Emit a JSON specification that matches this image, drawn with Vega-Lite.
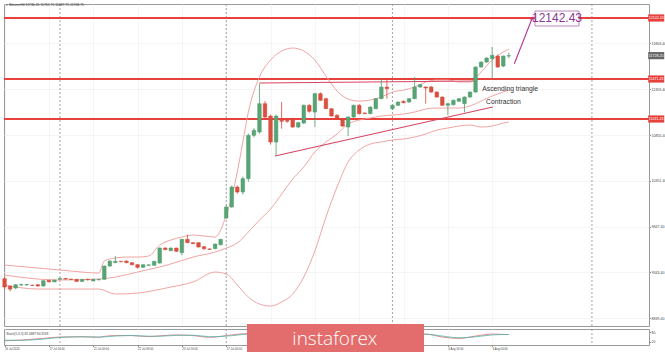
{
"$schema":"https://vega.github.io/schema/vega-lite/v6.json",
"padding":{"left":2,"top":2,"right":0,"bottom":0},
"background":"#ffffff",
"spacing":3,
"bounds":"flush",
"config":{"view":{"stroke":"#9a9a9a","strokeWidth":1},"font":"Liberation Sans","axis":{"labelFont":"Liberation Sans"}},
"datasets":{
"sep":[{"i":12},{"i":42},{"i":72},{"i":108}],
"lv":[{"p":12142.43,"t":"12142.43","k":"r"},{"p":11471.43,"t":"11471.43","k":"r"},{"p":11031.43,"t":"11031.43","k":"r"},{"p":11728.25,"t":"11728.25","k":"g"}],
"c":[
{"i":2,"o":9275,"h":9290,"l":9160,"c":9183},{"i":3,"o":9194,"h":9200,"l":9135,"c":9160},{"i":4,"o":9172,"h":9215,"l":9160,"c":9209},{"i":5,"o":9205,"h":9222,"l":9195,"c":9209},{"i":6,"o":9206,"h":9218,"l":9198,"c":9210},{"i":7,"o":9203,"h":9210,"l":9195,"c":9201},{"i":8,"o":9209,"h":9215,"l":9188,"c":9194},{"i":9,"o":9194,"h":9258,"l":9190,"c":9253},{"i":10,"o":9257,"h":9262,"l":9235,"c":9240},{"i":11,"o":9240,"h":9265,"l":9236,"c":9260},
{"i":12,"o":9268,"h":9285,"l":9262,"c":9278},{"i":13,"o":9278,"h":9282,"l":9265,"c":9270},{"i":14,"o":9270,"h":9276,"l":9260,"c":9266},{"i":15,"o":9268,"h":9272,"l":9240,"c":9245},{"i":16,"o":9245,"h":9272,"l":9240,"c":9268},{"i":17,"o":9268,"h":9275,"l":9255,"c":9262},{"i":18,"o":9250,"h":9272,"l":9245,"c":9268},{"i":19,"o":9262,"h":9275,"l":9258,"c":9265},{"i":20,"o":9268,"h":9420,"l":9262,"c":9414},{"i":21,"o":9414,"h":9475,"l":9405,"c":9469},
{"i":22,"o":9452,"h":9524,"l":9445,"c":9466},{"i":23,"o":9466,"h":9472,"l":9455,"c":9462},{"i":24,"o":9469,"h":9475,"l":9445,"c":9451},{"i":25,"o":9451,"h":9455,"l":9420,"c":9429},{"i":26,"o":9429,"h":9435,"l":9385,"c":9400},{"i":27,"o":9400,"h":9432,"l":9395,"c":9429},{"i":28,"o":9422,"h":9432,"l":9418,"c":9427},{"i":29,"o":9422,"h":9470,"l":9418,"c":9466},{"i":30,"o":9447,"h":9620,"l":9440,"c":9612},{"i":31,"o":9612,"h":9620,"l":9588,"c":9595},
{"i":32,"o":9583,"h":9618,"l":9578,"c":9612},{"i":33,"o":9612,"h":9616,"l":9570,"c":9576},{"i":34,"o":9561,"h":9712,"l":9532,"c":9708},{"i":35,"o":9708,"h":9759,"l":9665,"c":9671},{"i":36,"o":9671,"h":9675,"l":9655,"c":9660},{"i":37,"o":9671,"h":9676,"l":9618,"c":9623},{"i":38,"o":9627,"h":9632,"l":9590,"c":9605},{"i":39,"o":9602,"h":9608,"l":9592,"c":9598},{"i":40,"o":9605,"h":9660,"l":9598,"c":9656},{"i":41,"o":9649,"h":9712,"l":9640,"c":9708},
{"i":42,"o":9942,"h":10080,"l":9935,"c":10063},{"i":43,"o":10063,"h":10300,"l":10055,"c":10283},{"i":44,"o":10283,"h":10300,"l":10210,"c":10228},{"i":45,"o":10228,"h":10400,"l":10200,"c":10375},{"i":46,"o":10375,"h":10870,"l":10340,"c":10852},{"i":47,"o":10852,"h":10930,"l":10830,"c":10907},{"i":48,"o":10888,"h":11420,"l":10870,"c":11200},{"i":49,"o":11200,"h":11230,"l":11040,"c":11053},{"i":50,"o":11064,"h":11080,"l":10750,"c":10778},{"i":51,"o":10778,"h":11080,"l":10624,"c":11064},
{"i":52,"o":11017,"h":11218,"l":10925,"c":11006},{"i":53,"o":11017,"h":11040,"l":10990,"c":11006},{"i":54,"o":11028,"h":11045,"l":10935,"c":10943},{"i":55,"o":10943,"h":11000,"l":10930,"c":10991},{"i":56,"o":10987,"h":11190,"l":10975,"c":11182},{"i":57,"o":11182,"h":11195,"l":11100,"c":11116},{"i":58,"o":11108,"h":11320,"l":10943,"c":11310},{"i":59,"o":11310,"h":11325,"l":11230,"c":11237},{"i":60,"o":11255,"h":11265,"l":11140,"c":11145},{"i":61,"o":11145,"h":11150,"l":11060,"c":11064},
{"i":62,"o":11072,"h":11085,"l":11035,"c":11042},{"i":63,"o":11028,"h":11035,"l":10945,"c":10954},{"i":64,"o":10943,"h":11060,"l":10844,"c":11053},{"i":65,"o":11053,"h":11190,"l":11045,"c":11182},{"i":66,"o":11182,"h":11195,"l":11080,"c":11090},{"i":67,"o":11097,"h":11105,"l":11085,"c":11090},{"i":68,"o":11090,"h":11170,"l":11085,"c":11163},{"i":69,"o":11145,"h":11260,"l":11140,"c":11255},{"i":70,"o":11255,"h":11475,"l":11250,"c":11383},{"i":71,"o":11383,"h":11475,"l":11255,"c":11365},
{"i":72,"o":11145,"h":11190,"l":11130,"c":11182},{"i":73,"o":11182,"h":11225,"l":11175,"c":11218},{"i":74,"o":11226,"h":11235,"l":11205,"c":11211},{"i":75,"o":11218,"h":11260,"l":11210,"c":11255},{"i":76,"o":11255,"h":11493,"l":11250,"c":11383},{"i":77,"o":11383,"h":11415,"l":11375,"c":11409},{"i":78,"o":11383,"h":11390,"l":11200,"c":11372},{"i":79,"o":11383,"h":11395,"l":11320,"c":11328},{"i":80,"o":11328,"h":11335,"l":11265,"c":11273},{"i":81,"o":11273,"h":11280,"l":11175,"c":11182},
{"i":82,"o":11182,"h":11210,"l":11072,"c":11200},{"i":83,"o":11189,"h":11245,"l":11180,"c":11237},{"i":84,"o":11226,"h":11262,"l":11220,"c":11255},{"i":85,"o":11200,"h":11280,"l":11108,"c":11273},{"i":86,"o":11273,"h":11335,"l":11265,"c":11328},{"i":87,"o":11328,"h":11610,"l":11320,"c":11603},{"i":88,"o":11603,"h":11665,"l":11595,"c":11658},{"i":89,"o":11658,"h":11710,"l":11650,"c":11702},{"i":90,"o":11695,"h":11823,"l":11475,"c":11732},{"i":91,"o":11724,"h":11740,"l":11595,"c":11603},
{"i":92,"o":11614,"h":11730,"l":11600,"c":11724},{"i":93,"o":11724,"h":11761,"l":11700,"c":11728}
],
"bb":[
{"b":"u","i":2,"p":9425},{"b":"u","i":6,"p":9403},{"b":"u","i":10,"p":9381},{"b":"u","i":14,"p":9359},{"b":"u","i":19,"p":9337},{"b":"u","i":20,"p":9469},{"b":"u","i":22,"p":9502},{"b":"u","i":24,"p":9513},{"b":"u","i":26,"p":9513},{"b":"u","i":28,"p":9524},{"b":"u","i":30,"p":9645},{"b":"u","i":32,"p":9700},{"b":"u","i":34,"p":9733},{"b":"u","i":36,"p":9755},{"b":"u","i":38,"p":9744},{"b":"u","i":40,"p":9733},{"b":"u","i":41,"p":9810},{"b":"u","i":42,"p":9975},{"b":"u","i":43,"p":10173},{"b":"u","i":44,"p":10448},{"b":"u","i":45,"p":10778},{"b":"u","i":46,"p":11108},{"b":"u","i":48,"p":11493},{"b":"u","i":50,"p":11680},{"b":"u","i":52,"p":11779},{"b":"u","i":54,"p":11812},{"b":"u","i":56,"p":11779},{"b":"u","i":58,"p":11680},{"b":"u","i":60,"p":11504},{"b":"u","i":62,"p":11339},{"b":"u","i":64,"p":11251},{"b":"u","i":66,"p":11229},{"b":"u","i":68,"p":11240},{"b":"u","i":70,"p":11273},{"b":"u","i":72,"p":11328},{"b":"u","i":74,"p":11350},{"b":"u","i":76,"p":11383},{"b":"u","i":78,"p":11438},{"b":"u","i":80,"p":11460},{"b":"u","i":82,"p":11460},{"b":"u","i":84,"p":11438},{"b":"u","i":86,"p":11438},{"b":"u","i":88,"p":11548},{"b":"u","i":90,"p":11680},{"b":"u","i":92,"p":11768},{"b":"u","i":93,"p":11801},
{"b":"m","i":2,"p":9315},{"b":"m","i":8,"p":9271},{"b":"m","i":12,"p":9260},{"b":"m","i":19,"p":9271},{"b":"m","i":22,"p":9293},{"b":"m","i":26,"p":9348},{"b":"m","i":32,"p":9436},{"b":"m","i":36,"p":9513},{"b":"m","i":40,"p":9568},{"b":"m","i":42,"p":9612},{"b":"m","i":44,"p":9667},{"b":"m","i":46,"p":9788},{"b":"m","i":48,"p":9920},{"b":"m","i":50,"p":10041},{"b":"m","i":52,"p":10206},{"b":"m","i":54,"p":10371},{"b":"m","i":56,"p":10503},{"b":"m","i":58,"p":10668},{"b":"m","i":60,"p":10778},{"b":"m","i":62,"p":10866},{"b":"m","i":64,"p":10976},{"b":"m","i":66,"p":11020},{"b":"m","i":68,"p":11042},{"b":"m","i":70,"p":11064},{"b":"m","i":72,"p":11075},{"b":"m","i":74,"p":11086},{"b":"m","i":76,"p":11108},{"b":"m","i":78,"p":11141},{"b":"m","i":80,"p":11152},{"b":"m","i":82,"p":11152},{"b":"m","i":84,"p":11152},{"b":"m","i":86,"p":11174},{"b":"m","i":88,"p":11229},{"b":"m","i":90,"p":11284},{"b":"m","i":92,"p":11328},{"b":"m","i":93,"p":11350},
{"b":"l","i":2,"p":9205},{"b":"l","i":8,"p":9161},{"b":"l","i":14,"p":9161},{"b":"l","i":19,"p":9161},{"b":"l","i":22,"p":9106},{"b":"l","i":26,"p":9117},{"b":"l","i":32,"p":9183},{"b":"l","i":36,"p":9238},{"b":"l","i":40,"p":9348},{"b":"l","i":42,"p":9326},{"b":"l","i":44,"p":9205},{"b":"l","i":46,"p":9073},{"b":"l","i":48,"p":8996},{"b":"l","i":50,"p":8974},{"b":"l","i":52,"p":9018},{"b":"l","i":54,"p":9106},{"b":"l","i":56,"p":9293},{"b":"l","i":58,"p":9579},{"b":"l","i":60,"p":9953},{"b":"l","i":62,"p":10283},{"b":"l","i":64,"p":10558},{"b":"l","i":66,"p":10690},{"b":"l","i":68,"p":10756},{"b":"l","i":70,"p":10778},{"b":"l","i":72,"p":10800},{"b":"l","i":74,"p":10811},{"b":"l","i":76,"p":10833},{"b":"l","i":78,"p":10866},{"b":"l","i":80,"p":10910},{"b":"l","i":82,"p":10932},{"b":"l","i":84,"p":10954},{"b":"l","i":86,"p":10965},{"b":"l","i":88,"p":10943},{"b":"l","i":90,"p":10954},{"b":"l","i":92,"p":10987},{"b":"l","i":93,"p":10998}
],
"tri":[{"s":"top","i":48,"p":11427},{"s":"top","i":87,"p":11449},{"s":"diag","i":50.8,"p":10624},{"s":"diag","i":90.1,"p":11163}],
"arrow":[{"i":94.0,"p":11640},{"i":97.3,"p":12153}],
"head":[{"i":97.3,"p":12140}],
"tgt":[{"i":101.7,"p":12137,"t":"12142.43"}],
"notes":[{"i":88.2,"p":11361,"t":"Ascending triangle"},{"i":88.9,"p":11218,"t":"Contraction"}],
"hdr":[{"i":2.3,"p":12280,"t":"▾ Bitcoin,H4  11736.25 11763.75 11687.75 11708.75"}],
"osc":[
{"b":"k","i":2,"v":26},{"b":"k","i":5,"v":31},{"b":"k","i":9,"v":41},{"b":"k","i":12,"v":50},{"b":"k","i":16,"v":52},{"b":"k","i":19,"v":48},{"b":"k","i":20,"v":54},{"b":"k","i":22,"v":59},{"b":"k","i":25,"v":59},{"b":"k","i":28,"v":52},{"b":"k","i":30,"v":57},{"b":"k","i":33,"v":63},{"b":"k","i":36,"v":59},{"b":"k","i":39,"v":48},{"b":"k","i":43,"v":63},{"b":"k","i":45,"v":70},{"b":"k","i":48,"v":72},{"b":"k","i":51,"v":60},{"b":"k","i":54,"v":55},{"b":"k","i":57,"v":62},{"b":"k","i":60,"v":58},{"b":"k","i":63,"v":50},{"b":"k","i":66,"v":55},{"b":"k","i":69,"v":64},{"b":"k","i":72,"v":62},{"b":"k","i":75,"v":66},{"b":"k","i":78,"v":68},{"b":"k","i":81,"v":50},{"b":"k","i":84,"v":41},{"b":"k","i":87,"v":56},{"b":"k","i":90,"v":68},{"b":"k","i":93,"v":65},
{"b":"d","i":2,"v":30},{"b":"d","i":5,"v":29},{"b":"d","i":9,"v":37},{"b":"d","i":12,"v":47},{"b":"d","i":16,"v":51},{"b":"d","i":19,"v":50},{"b":"d","i":20,"v":51},{"b":"d","i":22,"v":56},{"b":"d","i":25,"v":59},{"b":"d","i":28,"v":55},{"b":"d","i":30,"v":55},{"b":"d","i":33,"v":60},{"b":"d","i":36,"v":61},{"b":"d","i":39,"v":52},{"b":"d","i":43,"v":58},{"b":"d","i":45,"v":66},{"b":"d","i":48,"v":71},{"b":"d","i":51,"v":64},{"b":"d","i":54,"v":57},{"b":"d","i":57,"v":59},{"b":"d","i":60,"v":59},{"b":"d","i":63,"v":53},{"b":"d","i":66,"v":53},{"b":"d","i":69,"v":60},{"b":"d","i":72,"v":63},{"b":"d","i":75,"v":64},{"b":"d","i":78,"v":67},{"b":"d","i":81,"v":56},{"b":"d","i":84,"v":45},{"b":"d","i":87,"v":51},{"b":"d","i":90,"v":63},{"b":"d","i":93,"v":66}
],
"olab":[{"i":2.3,"v":72,"t":"Stoch(5,3,3) 82.0887 84.3193"}],
"wm":[{"t":"instaforex"}]
},
"vconcat":[
{"width":645,"height":322,
"layer":[
{"data":{"name":"sep"},"mark":{"type":"rule","color":"#8c8c8c","strokeWidth":0.8,"strokeDash":[2,2]},
 "encoding":{"x":{"field":"i","type":"quantitative","scale":{"domain":[1.9,118.3],"nice":false,"zero":false,"padding":0},"axis":{"values":[2,6,10,14,18,22,26,30,34,38,42,46,50,54,58,62,66,70,74,78,82,86,90],"labels":false,"ticks":false,"domain":false,"grid":true,"gridColor":"#ebebeb","gridDash":[1,1],"title":null}}}},
{"data":{"name":"lv"},"transform":[{"filter":"datum.k == 'r'"}],"mark":{"type":"rule","color":"#e8403a","strokeWidth":1.8},
 "encoding":{"y":{"field":"p","type":"quantitative","scale":{"domain":[8754.43,12296.43],"nice":false,"zero":false,"padding":0},"axis":{"orient":"right","values":[12241.4,12115.4,11989.4,11863.4,11737.4,11611.4,11485.4,11359.4,11233.4,11107.4,10981.4,10855.4,10729.4,10603.4,10477.4,10351.4,10225.4,10099.4,9973.4,9847.4,9721.4,9595.4,9469.4,9343.4,9217.4,9091.4,8965.4,8839.4],"format":".2f","labelFontSize":3.6,"labelColor":"#444","labelPadding":0.5,"tickSize":1.5,"tickColor":"#888","domain":false,"grid":true,"gridColor":"#ebebeb","gridDash":[1,1],"title":null,"labelOverlap":false,"labelBound":false,"labelFlush":false}}}},
{"data":{"name":"bb"},"mark":{"type":"line","color":"#ee9a9a","strokeWidth":0.9,"interpolate":"monotone"},
 "encoding":{"x":{"field":"i","type":"quantitative"},"y":{"field":"p","type":"quantitative"},"detail":{"field":"b"}}},
{"data":{"name":"tri"},"mark":{"type":"line","color":"#d64560","strokeWidth":1.1},
 "encoding":{"x":{"field":"i","type":"quantitative"},"y":{"field":"p","type":"quantitative"},"detail":{"field":"s"}}},
{"data":{"name":"c"},"mark":{"type":"rule","strokeWidth":0.8},
 "encoding":{"x":{"field":"i","type":"quantitative"},"y":{"field":"l","type":"quantitative"},"y2":{"field":"h"},
  "color":{"condition":{"test":"datum.c >= datum.o","value":"#4f9a6c"},"value":"#d4493b"}}},
{"data":{"name":"c"},"mark":{"type":"bar","width":3.6,"strokeWidth":0.5},
 "encoding":{"x":{"field":"i","type":"quantitative"},"y":{"field":"o","type":"quantitative"},"y2":{"field":"c"},
  "fill":{"condition":{"test":"datum.c >= datum.o","value":"#58a474"},"value":"#d9503f"},
  "stroke":{"condition":{"test":"datum.c >= datum.o","value":"#4f9a6c"},"value":"#d4493b"}}},
{"data":{"name":"arrow"},"mark":{"type":"line","color":"#b0368f","strokeWidth":1.1},
 "encoding":{"x":{"field":"i","type":"quantitative"},"y":{"field":"p","type":"quantitative"}}},
{"data":{"name":"head"},"mark":{"type":"point","shape":"triangle-up","filled":true,"color":"#b0368f","size":22,"angle":21},
 "encoding":{"x":{"field":"i","type":"quantitative"},"y":{"field":"p","type":"quantitative"}}},
{"data":{"name":"tgt"},"mark":{"type":"point","shape":"M-1,-0.34H1V0.34H-1Z","size":1936,"filled":true,"fill":"#ffffff","stroke":"#a86aa8","strokeWidth":0.8,"opacity":1},
 "encoding":{"x":{"field":"i","type":"quantitative"},"y":{"field":"p","type":"quantitative"}}},
{"data":{"name":"tgt"},"mark":{"type":"text","fontSize":12,"color":"#8a3590","align":"center","baseline":"middle","font":"Liberation Sans"},
 "encoding":{"x":{"field":"i","type":"quantitative"},"y":{"field":"p","type":"quantitative"},"text":{"field":"t"}}},
{"data":{"name":"notes"},"mark":{"type":"text","fontSize":6.8,"color":"#333333","align":"left","baseline":"middle"},
 "encoding":{"x":{"field":"i","type":"quantitative"},"y":{"field":"p","type":"quantitative"},"text":{"field":"t"}}},
{"data":{"name":"hdr"},"mark":{"type":"text","fontSize":3.4,"color":"#333333","align":"left","baseline":"middle","font":"Liberation Sans"},
 "encoding":{"x":{"field":"i","type":"quantitative"},"y":{"field":"p","type":"quantitative"},"text":{"field":"t"}}},
{"data":{"name":"lv"},"mark":{"type":"point","shape":"M-1,-0.45H1V0.45H-1Z","size":256,"filled":true,"opacity":1},
 "encoding":{"x":{"datum":119.6,"type":"quantitative"},"y":{"field":"p","type":"quantitative"},
  "color":{"condition":{"test":"datum.k == 'r'","value":"#e8403a"},"value":"#666666"}}},
{"data":{"name":"lv"},"mark":{"type":"text","fontSize":3.6,"color":"#ffffff","align":"center","baseline":"middle","font":"Liberation Sans"},
 "encoding":{"x":{"datum":119.6,"type":"quantitative"},"y":{"field":"p","type":"quantitative"},"text":{"field":"t"}}}
]},
{"width":645,"height":16,
"layer":[
{"data":{"name":"sep"},"mark":{"type":"rule","color":"#8c8c8c","strokeWidth":0.8,"strokeDash":[2,2]},
 "encoding":{"x":{"field":"i","type":"quantitative","scale":{"domain":[1.9,118.3],"nice":false,"zero":false,"padding":0},"axis":{"values":[2,6,10,14,18,22,26,30,34,38,42,46,50,54,58,62,66,70,74,78,82,86,90],"labelExpr":"['16 Jul 2020','17 Jul 00:00','17 Jul 16:00','20 Jul 08:00','21 Jul 00:00','21 Jul 16:00','22 Jul 08:00','23 Jul 00:00','23 Jul 16:00','24 Jul 08:00','27 Jul 00:00','27 Jul 16:00','28 Jul 08:00','29 Jul 00:00','29 Jul 16:00','30 Jul 08:00','31 Jul 00:00','31 Jul 16:00','3 Aug 08:00','4 Aug 00:00','4 Aug 16:00','5 Aug 08:00','6 Aug 00:00'][(datum.value-2)/4]","labelAlign":"left","labelFontSize":2.8,"labelColor":"#444","labelPadding":1,"tickSize":1.5,"tickColor":"#888","domain":false,"grid":true,"gridColor":"#ebebeb","gridDash":[1,1],"title":null,"labelOverlap":false,"labelBound":false,"labelFlush":false}}}},
{"data":{"name":"osc"},"mark":{"type":"line","strokeWidth":0.8,"interpolate":"monotone"},
 "encoding":{"x":{"field":"i","type":"quantitative"},"y":{"field":"v","type":"quantitative","scale":{"domain":[0,100],"nice":false,"zero":false,"padding":0},"axis":{"orient":"right","values":[20,80],"labelFontSize":3.4,"labelColor":"#444","labelPadding":0.5,"tickSize":1.5,"domain":false,"grid":false,"title":null,"labelOverlap":false}},
  "color":{"field":"b","type":"nominal","scale":{"domain":["k","d"],"range":["#e26a6a","#4fb7b0"]},"legend":null}}},
{"data":{"name":"olab"},"mark":{"type":"text","fontSize":3.2,"color":"#444","align":"left","baseline":"middle","font":"Liberation Sans"},
 "encoding":{"x":{"field":"i","type":"quantitative"},"y":{"field":"v","type":"quantitative"},"text":{"field":"t"}}},
{"data":{"name":"wm"},"mark":{"type":"rect","color":"#e36d6d","opacity":1},
 "encoding":{"x":{"datum":45.75,"type":"quantitative"},"x2":{"datum":77.7},"y":{"datum":131,"type":"quantitative"},"y2":{"datum":-54}}},
{"data":{"name":"wm"},"mark":{"type":"text","fontSize":19,"color":"#ffffff","align":"center","baseline":"middle","font":"Open Sans","fontWeight":300},
 "encoding":{"x":{"datum":61.6,"type":"quantitative"},"y":{"datum":36,"type":"quantitative"},"text":{"field":"t"}}}
]}
]
}
